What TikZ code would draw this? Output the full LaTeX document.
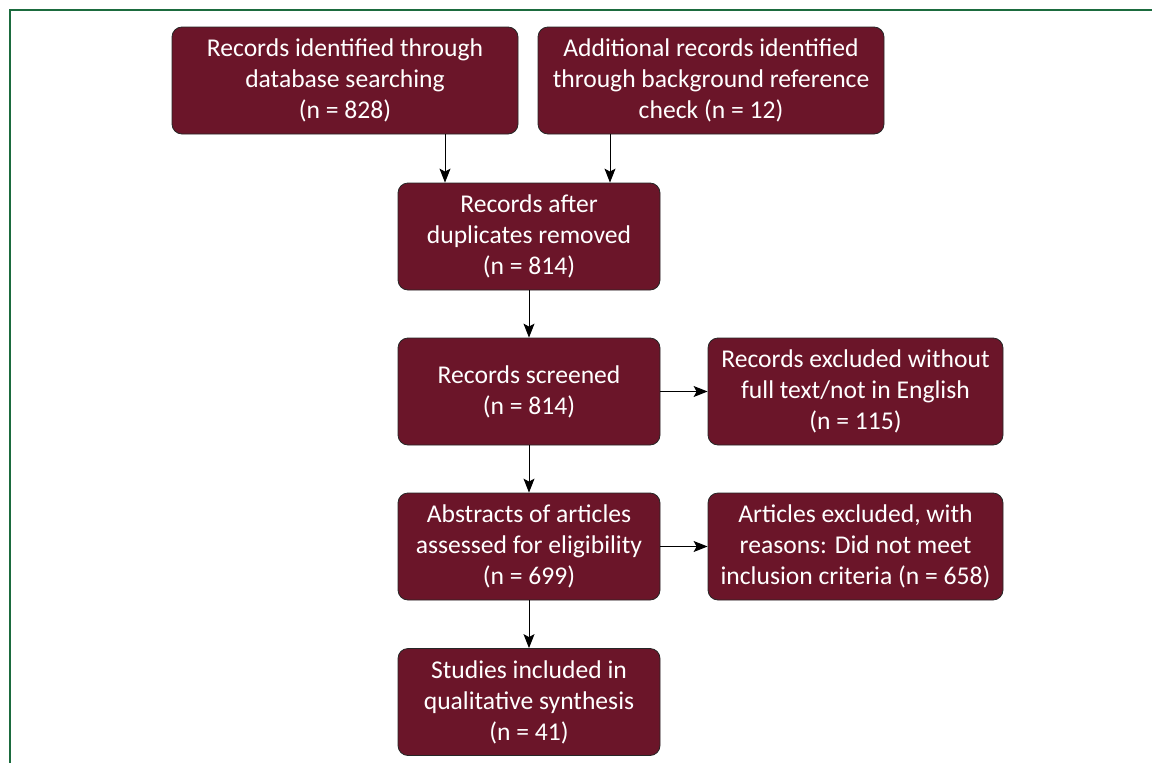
\documentclass[tikz,border=0pt]{standalone}
\usepackage{fontspec}
\setmainfont{Carlito}
\usetikzlibrary{arrows.meta}
\definecolor{boxred}{HTML}{6B1529}
\definecolor{frame}{HTML}{1B6B3E}
\tikzset{
  box/.style={draw=black!85, line width=0.8pt, fill=boxred, rounded corners=10pt,
    text=white, align=center, font=\fontsize{25.6}{31}\selectfont, inner sep=0pt},
  conn/.style={-{Stealth[length=14pt,width=11pt,inset=3pt]}, line width=1pt, black}
}
\begin{document}
\begin{tikzpicture}[x=1pt,y=-1pt]
\useasboundingbox (0,0) rectangle (1152,763);
\draw[frame, line width=2pt] (10,763) -- (10,10) -- (1152,10);
\node[box, minimum width=346pt, minimum height=107pt] (a) at (345,80.5) {Records identified through\\database searching\\(n = 828)};
\node[box, minimum width=346pt, minimum height=107pt] (b) at (711,80.5) {Additional records identified\\through background reference\\check (n = 12)};
\node[box, minimum width=262pt, minimum height=107pt] (c) at (529,236.5) {Records after\\duplicates removed\\(n = 814)};
\node[box, minimum width=262pt, minimum height=107pt] (d) at (529,391.5) {Records screened\\(n = 814)};
\node[box, minimum width=295pt, minimum height=107pt] (e) at (855.5,391.5) {Records excluded without\\full text/not in English\\(n = 115)};
\node[box, minimum width=262pt, minimum height=107pt] (f) at (529,546.5) {Abstracts of articles\\assessed for eligibility\\(n = 699)};
\node[box, minimum width=295pt, minimum height=107pt] (g) at (855.5,546.5) {Articles excluded, with\\reasons: Did not meet\\inclusion criteria (n = 658)};
\node[box, minimum width=262pt, minimum height=107pt] (h) at (529,702) {Studies included in\\qualitative synthesis\\(n = 41)};
\draw[conn] (a.south -| 445,0) -- (c.north -| 445,0);
\draw[conn] (b.south -| 610,0) -- (c.north -| 610,0);
\draw[conn] (c) -- (d);
\draw[conn] (d) -- (e);
\draw[conn] (d) -- (f);
\draw[conn] (f) -- (g);
\draw[conn] (f) -- (h);
\end{tikzpicture}
\end{document}
